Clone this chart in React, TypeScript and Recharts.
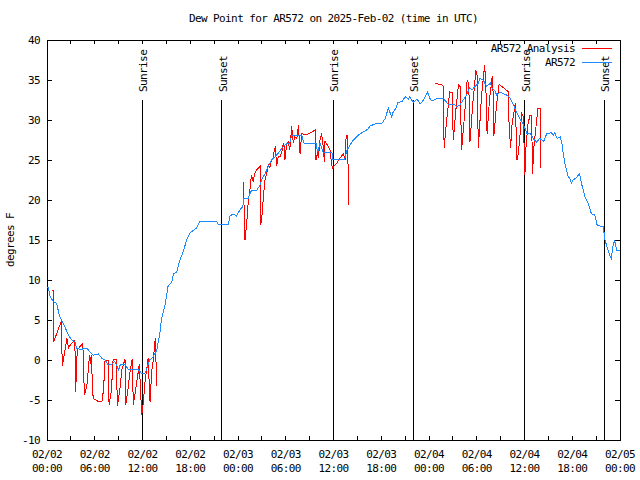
import { LineChart, Line, XAxis, YAxis, ReferenceLine, ReferenceArea, Legend } from 'recharts';

const FONT = '"DejaVu Sans Mono", "Liberation Mono", monospace';
const PLOT_TOP = 40;
const PLOT_LEFT = 47;
const PLOT_RIGHT = 620;
const TICK = 4;

// hours since 02/02 00:00 UTC
const obsHours = [
  0, 0.16, 0.4, 0.8, 1.2, 1.6, 2.05, 2.7, 3.1, 3.5,
  3.7, 4.15, 5.0, 5.4, 5.8, 6.45, 6.9, 7.3, 7.7, 8.1,
  8.5, 9.0, 9.2, 9.8, 10.2, 11.5, 11.9, 12.3, 12.5, 12.9,
  13.3, 13.8, 14.2, 14.4, 14.8, 15.0, 15.2, 15.7, 15.9, 16.3,
  16.7, 17.1, 17.55, 18.0, 18.4, 18.8, 19.2, 21.3, 21.5, 22.8,
  23.0, 23.4, 23.8, 24.25, 24.6, 24.75, 25.3, 25.5, 25.7, 26.35,
  26.8, 26.96, 27.4, 27.8, 28.2, 28.65, 29.1, 29.7, 30.1, 30.5,
  30.75, 32.0, 32.3, 33.8, 34.0, 34.3, 34.7, 35.8, 35.9, 37.4,
  37.7, 38.1, 38.5, 38.9, 39.3, 39.75, 40.1, 40.4, 40.6, 41.2,
  42.1, 42.5, 42.9, 43.3, 43.5, 43.85, 44.1, 44.6, 45.0, 45.4,
  45.6, 46.0, 46.5, 46.9, 47.3, 47.8, 48.2, 48.5, 48.75, 49.2,
  49.8, 50.4, 51.05, 51.5, 51.9, 52.3, 52.7, 53.1, 53.4, 53.8,
  54.2, 54.4, 54.8, 55.25, 55.7, 55.9, 56.3, 56.5, 56.9, 57.3,
  57.8, 58.2, 58.6, 59.0, 59.4, 59.9, 60.3, 60.7, 61.1, 61.5,
  61.9, 62.2, 62.4, 62.8, 63.4, 63.6, 63.8, 64.1, 64.5, 64.7,
  64.9, 65.1, 65.5, 65.7, 65.9, 66.1, 66.55, 66.9, 67.2, 67.6,
  68.0, 68.4, 68.85, 69.1, 69.5, 69.9, 70.1, 70.5, 70.7, 70.9,
  71.1, 71.3, 71.6, 72.0,
];
const obsDewpt = [
  9.1, 9.1, 7.9, 7.3, 7.1, 5.4, 4.6, 3.1, 2.5, 2.3,
  1.5, 1.3, 1.5, 1.0, 0.6, 0.75, 0.2, 0.0, -0.6, -0.6,
  -0.2, -1.2, -0.6, -0.5, -1.2, -1.25, -1.7, -1.7, -1.25, 0.0,
  0.3, 1.25, 3.5, 5.2, 6.7, 7.9, 9.2, 9.8, 10.8, 11.0,
  12.5, 13.5, 15.0, 15.9, 16.2, 16.5, 17.3, 17.3, 17.0, 17.0,
  18.0, 18.25, 18.0, 18.75, 19.2, 20.2, 20.2, 20.8, 21.2, 21.2,
  21.9, 22.5, 23.3, 24.2, 25.0, 25.4, 25.9, 26.7, 27.0, 27.1,
  28.1, 28.1, 27.1, 27.1, 26.0, 27.1, 26.0, 26.0, 25.1, 25.1,
  26.25, 26.9, 27.5, 27.9, 28.25, 28.5, 28.7, 28.95, 29.25, 29.5,
  29.6, 30.2, 31.5, 30.4, 31.0, 31.5, 32.2, 32.3, 32.9, 32.6,
  32.9, 32.2, 32.6, 32.0, 32.5, 33.5, 32.5, 32.4, 32.6, 32.7,
  32.7, 32.0, 32.0, 31.7, 31.9, 32.5, 33.1, 34.0, 33.75, 34.2,
  34.6, 35.2, 35.0, 34.2, 34.6, 34.0, 33.6, 33.1, 33.5, 33.3,
  33.1, 32.7, 31.9, 31.0, 30.2, 29.4, 28.3, 28.3, 27.7, 27.2,
  27.7, 27.5, 27.3, 28.3, 28.4, 28.1, 28.4, 27.7, 27.9, 27.1,
  25.6, 24.4, 22.9, 22.7, 22.1, 22.5, 22.8, 23.3, 21.9, 20.4,
  19.6, 18.3, 18.1, 16.9, 16.75, 16.7, 15.0, 13.75, 13.1, 12.7,
  14.2, 15.0, 13.75, 13.75,
];

// analysis: three runs, null marks the gaps
const analysisHours = [
  0.6, 0.8, 0.85, 1.3, 1.85, 1.9, 2.1, 2.5, 2.7, 3.0,
  3.5, 3.6, 3.8, 4.5, 4.7, 5.0, 5.35, 5.45, 5.55, 5.8,
  6.45, 6.9, 7.1, 7.3, 7.7, 7.8, 8.1, 8.3, 8.7, 8.85,
  9.2, 9.4, 9.8, 9.9, 10.2, 10.4, 10.7, 10.85, 11.2, 11.5,
  11.6, 11.9, 12.1, 12.3, 12.7, 12.95, 13.15, 13.35, 13.6, 13.8,
  19.0,
  24.67, 24.88, 25.1, 25.3, 25.5, 25.6, 25.7, 25.9, 26.1, 26.35,
  26.55, 26.77, 26.85, 27.05, 27.2, 27.4, 27.6, 27.8, 28.0, 28.2,
  28.4, 28.56, 28.7, 28.85, 29.05, 29.3, 29.5, 29.7, 29.8, 29.9,
  30.1, 30.3, 30.5, 30.75, 30.95, 31.15, 31.4, 31.6, 31.8, 32.0,
  32.2, 32.8, 33.3, 33.7, 33.8, 34.0, 34.1, 34.3, 34.5, 34.7,
  34.85, 34.93, 35.35, 35.56, 35.78, 35.9, 36.2, 36.4, 36.8, 37.25,
  37.45, 37.55, 37.7, 37.85, 37.95,
  43.0,
  48.75, 49.6, 49.8, 49.9, 50.2, 50.45, 50.6, 50.9, 51.05, 51.4,
  51.7, 51.9, 52.1, 52.5, 52.8, 53.0, 53.15, 53.5, 53.9, 54.05,
  54.2, 54.6, 55.0, 55.15, 55.3, 55.6, 55.95, 56.05, 56.15, 56.5,
  56.8, 56.9, 58.0, 58.05, 58.25, 58.45, 58.65, 58.85, 59.05, 59.25,
  59.45, 59.65, 59.85, 60.05, 60.2, 60.45, 60.7, 60.9, 61.0, 61.2,
  61.4, 61.7, 61.95, 62.05,
];
const analysisDewpt = [
  8.75, 8.75, 2.3, 3.5, 5.0, -0.8, 0.3, 2.7, 1.5, 2.0,
  2.5, -4.0, 1.25, 2.1, -4.4, -3.3, 0.6, -0.5, 0.6, -4.8,
  -5.2, -5.2, -3.75, 0.0, 0.0, -5.6, -3.75, 0.0, 0.1, -5.8,
  -3.3, -1.25, 0.1, -5.6, -3.5, -1.7, 0.1, -5.6, -3.3, -1.25,
  -0.5, -6.9, -5.4, -2.9, 0.2, -5.2, -1.5, 0.0, 2.7, -3.3,
  null,
  22.3, 15.0, 17.1, 20.0, 21.25, 22.3, 23.1, 22.3, 23.3, 23.75,
  24.0, 24.2, 16.9, 18.3, 20.6, 22.5, 23.3, 24.4, 24.0, 25.0,
  25.2, 26.25, 26.7, 24.2, 25.4, 25.4, 26.0, 27.1, 26.7, 25.0,
  26.9, 27.3, 26.25, 29.2, 27.1, 27.9, 27.7, 29.4, 25.8, 28.3,
  28.25, 28.25, 28.5, 28.75, 25.0, 26.0, 25.2, 27.5, 28.3, 26.7,
  24.8, 27.3, 26.7, 26.25, 24.4, 24.0, 24.4, 24.6, 25.2, 25.8,
  25.0, 27.5, 28.1, 23.75, 19.4,
  null,
  34.6, 34.4, 34.2, 26.5, 29.8, 32.1, 33.5, 33.4, 27.5, 31.5,
  34.4, 34.2, 26.3, 31.0, 35.0, 34.5, 27.3, 32.0, 36.2, 35.5,
  26.5, 33.0, 36.9, 34.0, 28.3, 32.5, 35.5, 33.5, 28.0, 32.0,
  34.4, 34.4, 33.5, 29.8, 26.5, 29.6, 30.8, 32.1, 25.0, 26.0,
  28.3, 30.8, 30.4, 23.1, 26.9, 29.6, 30.6, 30.6, 23.3, 26.9,
  28.75, 31.5, 31.5, 24.0,
];

const sunHours = [11.95, 21.95, 35.95, 46.0, 60.05, 70.0];
const sunLabels = ['Sunrise', 'Sunset', 'Sunrise', 'Sunset', 'Sunrise', 'Sunset'];
const sunLineTop = 32.5;

const xTicks = [0, 3, 6, 9, 12, 15, 18, 21, 24, 27, 30, 33, 36, 39, 42, 45, 48, 51, 54, 57, 60, 63, 66, 69, 72];
const xTickDates = ['02/02', '02/02', '02/02', '02/02', '02/03', '02/03', '02/03', '02/03', '02/04', '02/04', '02/04', '02/04', '02/05'];
const xTickTimes = ['00:00', '06:00', '12:00', '18:00', '00:00', '06:00', '12:00', '18:00', '00:00', '06:00', '12:00', '18:00', '00:00'];
const yTicks = [-10, -5, 0, 5, 10, 15, 20, 25, 30, 35, 40];
const legendOrder = ['AR572 Analysis', 'AR572'];

const obsData = obsHours.map((t, i) => ({ t, v: obsDewpt[i] }));
const analysisData = analysisHours.map((t, i) => ({ t, v: analysisDewpt[i] }));

const textStyle = { fontFamily: FONT, fontSize: 11, letterSpacing: '-0.6px' };

function renderXTick(props: any) {
  const { x, y, payload } = props;
  const idx = payload.value / 6;
  const labeled = Number.isInteger(idx);
  return (
    <g>
      <line x1={x} x2={x} y1={y} y2={y - TICK} stroke="#000" shapeRendering="crispEdges" />
      <line x1={x} x2={x} y1={PLOT_TOP} y2={PLOT_TOP + TICK} stroke="#000" shapeRendering="crispEdges" />
      {labeled && (
        <text x={x} y={y + 18} textAnchor="middle" fill="#000" style={textStyle}>
          {xTickDates[idx]}
        </text>
      )}
      {labeled && (
        <text x={x} y={y + 32} textAnchor="middle" fill="#000" style={textStyle}>
          {xTickTimes[idx]}
        </text>
      )}
    </g>
  );
}

function renderYTick(props: any) {
  const { x, y, payload } = props;
  return (
    <g>
      <line x1={x} x2={x + 5} y1={y} y2={y} stroke="#000" shapeRendering="crispEdges" />
      <line x1={PLOT_RIGHT - 5} x2={PLOT_RIGHT} y1={y} y2={y} stroke="#000" shapeRendering="crispEdges" />
      <text x={x - 7} y={y + 4} textAnchor="end" fill="#000" style={textStyle}>
        {payload.value}
      </text>
    </g>
  );
}

function SunLabel({ viewBox, text }: any) {
  const x0 = (viewBox?.x ?? 0) + 5;
  const y0 = (viewBox?.y ?? 100) - 8;
  return (
    <text x={x0} y={y0} transform={`rotate(-90 ${x0} ${y0})`} textAnchor="start" fill="#000" style={textStyle}>
      {text}
    </text>
  );
}

function renderLegend(props: any) {
  const items = [...(props.payload || [])].sort(
    (a: any, b: any) => legendOrder.indexOf(a.value) - legendOrder.indexOf(b.value),
  );
  return (
    <svg width={200} height={32}>
      {items.map((item: any, i: number) => (
        <g key={item.value}>
          <text x={145} y={12 + i * 14} textAnchor="end" fill="#000" style={textStyle}>
            {item.value}
          </text>
          <line x1={152} x2={182} y1={8.5 + i * 14} y2={8.5 + i * 14} stroke={item.color} />
        </g>
      ))}
    </svg>
  );
}

export default function App() {
  return (
    <div style={{ position: 'absolute', left: 0, top: 0, width: 640, height: 480, background: '#fff' }}>
      <div
        style={{
          position: 'absolute', left: PLOT_LEFT, width: PLOT_RIGHT - PLOT_LEFT, top: 12,
          textAlign: 'center', ...textStyle, color: '#000', lineHeight: '14px',
        }}
      >
        Dew Point for AR572 on 2025-Feb-02 (time in UTC)
      </div>
      <LineChart width={640} height={480} margin={{ top: 40, right: 20, bottom: 10, left: 7 }}>
        <XAxis
          type="number"
          dataKey="t"
          domain={[0, 72]}
          ticks={xTicks}
          interval={0}
          tickSize={0}
          tickMargin={0}
          tickLine={false}
          axisLine={false}
          tick={renderXTick}
          height={30}
          allowDataOverflow
        />
        <YAxis
          type="number"
          domain={[-10, 40]}
          ticks={yTicks}
          interval={0}
          tickSize={0}
          tickMargin={0}
          tickLine={false}
          axisLine={false}
          tick={renderYTick}
          width={40}
          allowDataOverflow
          label={{
            content: () => (
              <text x={14} y={240} transform="rotate(-90 14 240)" textAnchor="middle" fill="#000" style={textStyle}>
                degrees F
              </text>
            ),
          }}
        />
        <ReferenceArea x1={0} x2={72} y1={-10} y2={40} fill="none" stroke="#000" shapeRendering="crispEdges" />
        {sunHours.map((t, i) => (
          <ReferenceLine
            key={i}
            segment={[{ x: t, y: -10 }, { x: t, y: sunLineTop }]}
            stroke="#000"
            shapeRendering="crispEdges"
            label={(p: any) => <SunLabel viewBox={p.viewBox} text={sunLabels[i]} />}
          />
        ))}
        <Line
          data={analysisData}
          dataKey="v"
          name="AR572 Analysis"
          type="linear"
          stroke="#ff0000"
          strokeWidth={1}
          dot={false}
          connectNulls={false}
          isAnimationActive={false}
          shapeRendering="crispEdges"
        />
        <Line
          data={obsData}
          dataKey="v"
          name="AR572"
          type="linear"
          stroke="#1e88ff"
          strokeWidth={1}
          dot={false}
          isAnimationActive={false}
          shapeRendering="crispEdges"
        />
        <Legend
          layout="horizontal"
          verticalAlign="middle"
          align="center"
          wrapperStyle={{ position: 'absolute', left: 430, top: 40, width: 200, height: 32 }}
          content={renderLegend}
        />
      </LineChart>
    </div>
  );
}
